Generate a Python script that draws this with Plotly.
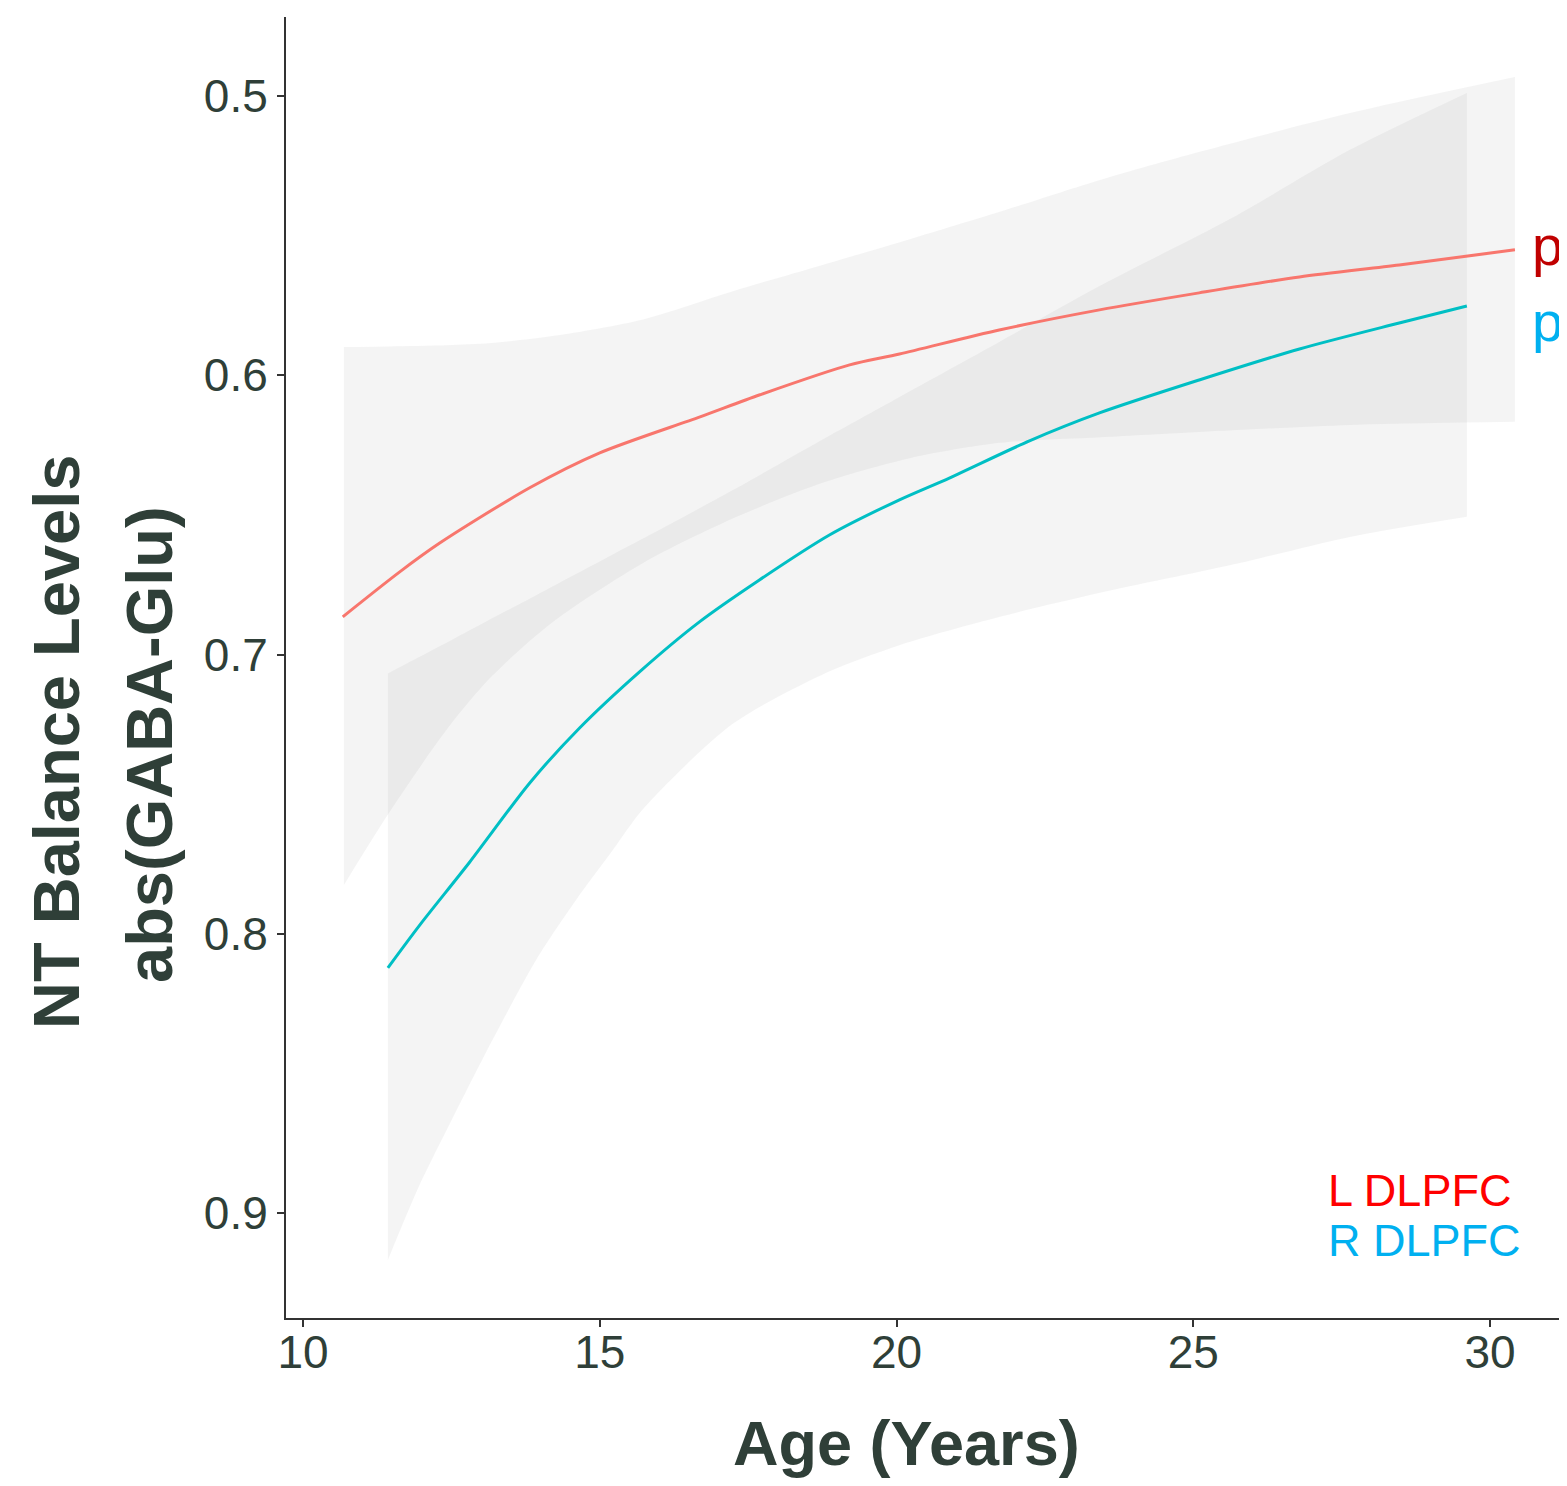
import plotly.graph_objects as go

# ---------------- data ----------------
age_L = [10.67, 11.63, 12.31, 13.82, 15.00, 16.69, 17.70, 19.21, 20.05, 21.73, 23.42, 25.10, 26.79, 28.47, 30.42]
fit_L = [0.6865, 0.6704, 0.6600, 0.6403, 0.6278, 0.6149, 0.6070, 0.5963, 0.5924, 0.5838, 0.5766, 0.5705, 0.5648, 0.5605, 0.5551]

age_R = [11.43, 11.97, 12.81, 13.82, 14.66, 15.67, 16.68, 17.69, 18.87, 20.05, 20.89, 22.24, 23.42, 25.10, 26.79, 28.47, 29.61]
fit_R = [0.8122, 0.7968, 0.7743, 0.7460, 0.7263, 0.7062, 0.6883, 0.6733, 0.6572, 0.6446, 0.6368, 0.6235, 0.6135, 0.6017, 0.5906, 0.5813, 0.5752]

band_age_L = [10.69, 11.45, 12.43, 13.17, 14.23, 15.73, 17.23, 18.74, 20.24, 21.74, 23.43, 25.11, 27.64, 30.42]
band_top_L = [0.5899, 0.5897, 0.5893, 0.5885, 0.5859, 0.5800, 0.5700, 0.5606, 0.5512, 0.5415, 0.5301, 0.5200, 0.5061, 0.4932]
band_bot_L = [0.7825, 0.7567, 0.7266, 0.7080, 0.6880, 0.6672, 0.6514, 0.6386, 0.6296, 0.6242, 0.6222, 0.6203, 0.6178, 0.6167]

band_age_R = [11.43, 11.95, 12.53, 13.08, 13.93, 14.60, 15.22, 15.73, 17.23, 18.74, 20.06, 21.74, 23.43, 25.65, 27.64, 29.61]
band_top_R = [0.7068, 0.7010, 0.6945, 0.6883, 0.6788, 0.6712, 0.6642, 0.6585, 0.6413, 0.6232, 0.6077, 0.5880, 0.5680, 0.5437, 0.5193, 0.4989]
band_bot_R = [0.9168, 0.8906, 0.8656, 0.8426, 0.8093, 0.7879, 0.7700, 0.7553, 0.7250, 0.7073, 0.6966, 0.6865, 0.6779, 0.6679, 0.6579, 0.6507]

x_ticks = [10, 15, 20, 25, 30]
y_ticks = [0.5, 0.6, 0.7, 0.8, 0.9]
y_tick_labels = ["0.5", "0.6", "0.7", "0.8", "0.9"]
region_labels = ["L DLPFC", "R DLPFC"]
x_title = "Age (Years)"
y_title_lines = ["NT Balance Levels", "abs(GABA-Glu)"]

# ---------------- layout geometry ----------------
OFF = 8  # default body margin of the page
W, H = 1567 - OFF, 1486 - OFF
ML, MR, MT, MB = 278, 0, 9, 168
PW, PH = W - ML - MR, H - MT - MB

def px_x(px):  # page pixel -> paper coordinate
    return (px - OFF - ML) / PW

def px_y(py):
    return (H - MB - (py - OFF)) / PH

FONT = "Liberation Sans, Arial, sans-serif"
TXT = "#2F3F38"
AX = "#333333"
band_fill = "rgba(153,153,153,0.11)"

fig = go.Figure()

for xs, top, bot in [(band_age_L, band_top_L, band_bot_L), (band_age_R, band_top_R, band_bot_R)]:
    fig.add_trace(go.Scatter(
        x=xs, y=bot, mode="lines", line=dict(width=0, color="rgba(0,0,0,0)", shape="spline", smoothing=0.8),
        hoverinfo="skip", showlegend=False))
    fig.add_trace(go.Scatter(
        x=xs, y=top, mode="lines", fill="tonexty", fillcolor=band_fill,
        line=dict(width=0, color="rgba(0,0,0,0)", shape="spline", smoothing=0.8),
        hoverinfo="skip", showlegend=False))

fig.add_trace(go.Scatter(x=age_L, y=fit_L, mode="lines",
                         line=dict(color="#F8766D", width=3, shape="spline", smoothing=0.8), showlegend=False))
fig.add_trace(go.Scatter(x=age_R, y=fit_R, mode="lines",
                         line=dict(color="#00BFC4", width=3, shape="spline", smoothing=0.8), showlegend=False))

fig.update_layout(
    width=W, height=H, margin=dict(l=ML, r=MR, t=MT, b=MB, pad=0),
    paper_bgcolor="white", plot_bgcolor="white", showlegend=False,
    font=dict(family=FONT, color=TXT),
)
fig.update_xaxes(
    range=[9.7136, 31.297], tickvals=x_ticks, ticktext=[str(v) for v in x_ticks],
    showgrid=False, zeroline=False, showline=True, linecolor=AX, linewidth=2,
    ticks="outside", ticklen=7, tickwidth=2, tickcolor=AX, ticklabelstandoff=-14,
    tickfont=dict(size=46, color=TXT, family=FONT),
)
fig.update_yaxes(
    range=[0.93759, 0.47172], tickvals=y_ticks, ticktext=y_tick_labels,
    showgrid=False, zeroline=False, showline=True, linecolor=AX, linewidth=2,
    ticks="outside", ticklen=7, tickwidth=2, tickcolor=AX,
    tickfont=dict(size=46, color=TXT, family=FONT),
)

ann = []
ann.append(dict(text="<b>%s</b>" % x_title, x=px_x(906), y=px_y(1443), xref="paper", yref="paper",
                showarrow=False, font=dict(size=63, color=TXT, family=FONT), xanchor="center", yanchor="middle"))
ann.append(dict(text="<b>%s</b>" % y_title_lines[0], x=px_x(56), y=px_y(742), xref="paper", yref="paper",
                showarrow=False, textangle=-90, font=dict(size=65, color=TXT, family=FONT), xanchor="center", yanchor="middle"))
ann.append(dict(text="<b>%s</b>" % y_title_lines[1], x=px_x(150), y=px_y(745), xref="paper", yref="paper",
                showarrow=False, textangle=-90, font=dict(size=65, color=TXT, family=FONT), xanchor="center", yanchor="middle"))
ann.append(dict(text=region_labels[0], x=px_x(1326), y=px_y(1190), xref="paper", yref="paper",
                showarrow=False, font=dict(size=45, color="#FF0000", family=FONT), xanchor="left", yanchor="middle"))
ann.append(dict(text=region_labels[1], x=px_x(1326), y=px_y(1240), xref="paper", yref="paper",
                showarrow=False, font=dict(size=45, color="#00B0F0", family=FONT), xanchor="left", yanchor="middle"))
ann.append(dict(text="p", x=px_x(1530), y=px_y(245), xref="paper", yref="paper",
                showarrow=False, font=dict(size=56, color="#C00000", family=FONT), xanchor="left", yanchor="middle"))
ann.append(dict(text="p", x=px_x(1530), y=px_y(321), xref="paper", yref="paper",
                showarrow=False, font=dict(size=56, color="#00B0F0", family=FONT), xanchor="left", yanchor="middle"))
fig.update_layout(annotations=ann)

fig.write_html("out.html")
